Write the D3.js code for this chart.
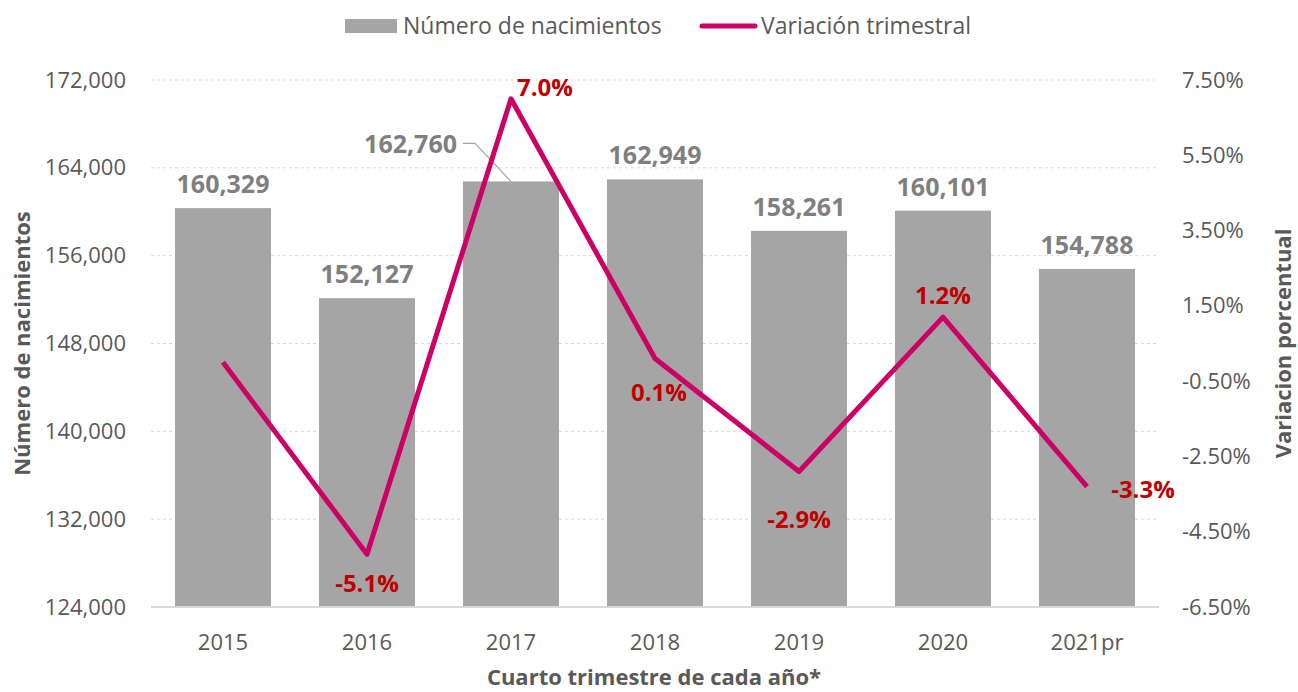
<!DOCTYPE html>
<html>
<head>
<meta charset="utf-8">
<script src="https://cdn.jsdelivr.net/npm/d3@7"></script>
<style>
  body { margin: 0; background: #fff; }
  svg { font-family: "Open Sans", "Noto Sans", sans-serif; }
</style>
</head>
<body>
<svg id="chart" width="1298" height="692"></svg>
<script>
//Categories and values
const years = ["2015", "2016", "2017", "2018", "2019", "2020", "2021pr"];
const births = [160329, 152127, 162760, 162949, 158261, 160101, 154788];
const variation = [0.0, -5.1, 7.0, 0.1, -2.9, 1.2, -3.3];
const leftTicks = [124000, 132000, 140000, 148000, 156000, 164000, 172000];
const rightTicks = [-6.5, -4.5, -2.5, -0.5, 1.5, 3.5, 5.5, 7.5];

const barColor = "#a5a5a5";
const lineColor = "#cc0066";

const svg = d3.select("#chart");
const margin = {top: 80, right: 139, bottom: 85, left: 151};
const width = 1298 - margin.left - margin.right;
const height = 692 - margin.top - margin.bottom;

const g = svg.append("g").attr("transform", `translate(${margin.left},${margin.top})`);

const x = d3.scaleBand().domain(years).range([0, width]).paddingInner(0.333).paddingOuter(0.1665);
const yLeft = d3.scaleLinear().domain([124000, 172000]).range([height, 0]);
const yRight = d3.scaleLinear().domain([-6.5, 7.5]).range([height, 0]);

//gridlines
g.selectAll(".grid")
  .data(leftTicks.slice(1))
  .join("line")
  .attr("x1", 0).attr("x2", width)
  .attr("y1", d => yLeft(d)).attr("y2", d => yLeft(d))
  .attr("stroke", "#d9d9d9")
  .attr("stroke-dasharray", "3,3");

//bars
g.selectAll("rect.bar")
  .data(births)
  .join("rect")
  .attr("class", "bar")
  .attr("x", (d, i) => x(years[i]))
  .attr("y", d => yLeft(d))
  .attr("width", x.bandwidth())
  .attr("height", d => height - yLeft(d))
  .attr("fill", barColor);

//baseline
g.append("line")
  .attr("x1", 0).attr("x2", width)
  .attr("y1", height).attr("y2", height)
  .attr("stroke", "#d9d9d9").attr("stroke-width", 2);

//left axis
const leftAxis = g.append("g")
  .call(d3.axisLeft(yLeft).tickValues(leftTicks).tickFormat(d3.format(",")).tickSize(0).tickPadding(25));
leftAxis.select(".domain").remove();
leftAxis.selectAll("text").attr("font-size", 22).attr("fill", "#595959").attr("font-family", "Open Sans");

//right axis
const rightAxis = g.append("g")
  .attr("transform", `translate(${width},0)`)
  .call(d3.axisRight(yRight).tickValues(rightTicks).tickFormat(d => d.toFixed(2) + "%").tickSize(0).tickPadding(23));
rightAxis.select(".domain").remove();
rightAxis.selectAll("text").attr("font-size", 22).attr("fill", "#595959").attr("font-family", "Open Sans");

//bottom axis
const bottomAxis = g.append("g")
  .attr("transform", `translate(0,${height})`)
  .call(d3.axisBottom(x).tickSize(0).tickPadding(27));
bottomAxis.select(".domain").remove();
bottomAxis.selectAll("text").attr("font-size", 22).attr("fill", "#595959").attr("font-family", "Open Sans");

//bar labels
const cx = i => x(years[i]) + x.bandwidth() / 2;
g.selectAll("text.blabel")
  .data(births)
  .join("text")
  .attr("class", "blabel")
  .attr("x", (d, i) => i == 2 ? cx(i) - 54 : cx(i))
  .attr("y", (d, i) => i == 2 ? yLeft(d) - 28 : yLeft(d) - 15)
  .attr("text-anchor", (d, i) => i == 2 ? "end" : "middle")
  .attr("font-size", 25)
  .attr("font-weight", "bold")
  .attr("fill", "#7f7f7f")
  .text(d => d3.format(",")(d));

//leader line for 2017 label
g.append("polyline")
  .attr("points", [[cx(2) - 48, yLeft(births[2]) - 38], [cx(2) - 36, yLeft(births[2]) - 38], [cx(2), yLeft(births[2])]].join(" "))
  .attr("fill", "none")
  .attr("stroke", "#a5a5a5")
  .attr("stroke-width", 1.2);

//line
g.append("path")
  .datum(variation)
  .attr("d", d3.line().x((d, i) => cx(i)).y(d => yRight(d)))
  .attr("fill", "none")
  .attr("stroke", lineColor)
  .attr("stroke-width", 5)
  .attr("stroke-linejoin", "round");

//line labels (2015 has none)
const lineLabelPos = [null, [0, 38], [34, -3], [4, 42], [0, 57], [0, -13], [56, 11]];
const lineLabels = variation.map((v, i) => ({v: v, i: i})).filter(d => lineLabelPos[d.i] != null);
g.selectAll("text.llabel")
  .data(lineLabels)
  .join("text")
  .attr("class", "llabel")
  .attr("x", d => cx(d.i) + lineLabelPos[d.i][0])
  .attr("y", d => yRight(d.v) + lineLabelPos[d.i][1])
  .attr("text-anchor", "middle")
  .attr("font-size", 24)
  .attr("font-weight", "bold")
  .attr("fill", "#c00000")
  .text(d => d.v.toFixed(1) + "%");

//axis titles
svg.append("text")
  .attr("transform", `translate(30,${margin.top + height / 2}) rotate(-90)`)
  .attr("text-anchor", "middle")
  .attr("font-size", 22).attr("font-weight", "bold").attr("fill", "#595959")
  .text("Número de nacimientos");

svg.append("text")
  .attr("transform", `translate(1291,${margin.top + height / 2}) rotate(-90)`)
  .attr("text-anchor", "middle")
  .attr("font-size", 22).attr("font-weight", "bold").attr("fill", "#595959")
  .text("Variacion porcentual");

svg.append("text")
  .attr("x", 654).attr("y", 685)
  .attr("text-anchor", "middle")
  .attr("font-size", 22).attr("font-weight", "bold").attr("fill", "#595959")
  .text("Cuarto trimestre de cada año*");

//legend
const legend = svg.append("g");
legend.append("rect").attr("x", 345).attr("y", 19).attr("width", 52).attr("height", 14).attr("fill", barColor);
legend.append("text").attr("x", 403).attr("y", 34)
  .attr("font-size", 23).attr("fill", "#595959").text("Número de nacimientos");
legend.append("line").attr("x1", 702).attr("x2", 755).attr("y1", 26).attr("y2", 26)
  .attr("stroke", lineColor).attr("stroke-width", 5).attr("stroke-linecap", "round");
legend.append("text").attr("x", 761).attr("y", 34)
  .attr("font-size", 23).attr("fill", "#595959").text("Variación trimestral");
</script>
</body>
</html>
